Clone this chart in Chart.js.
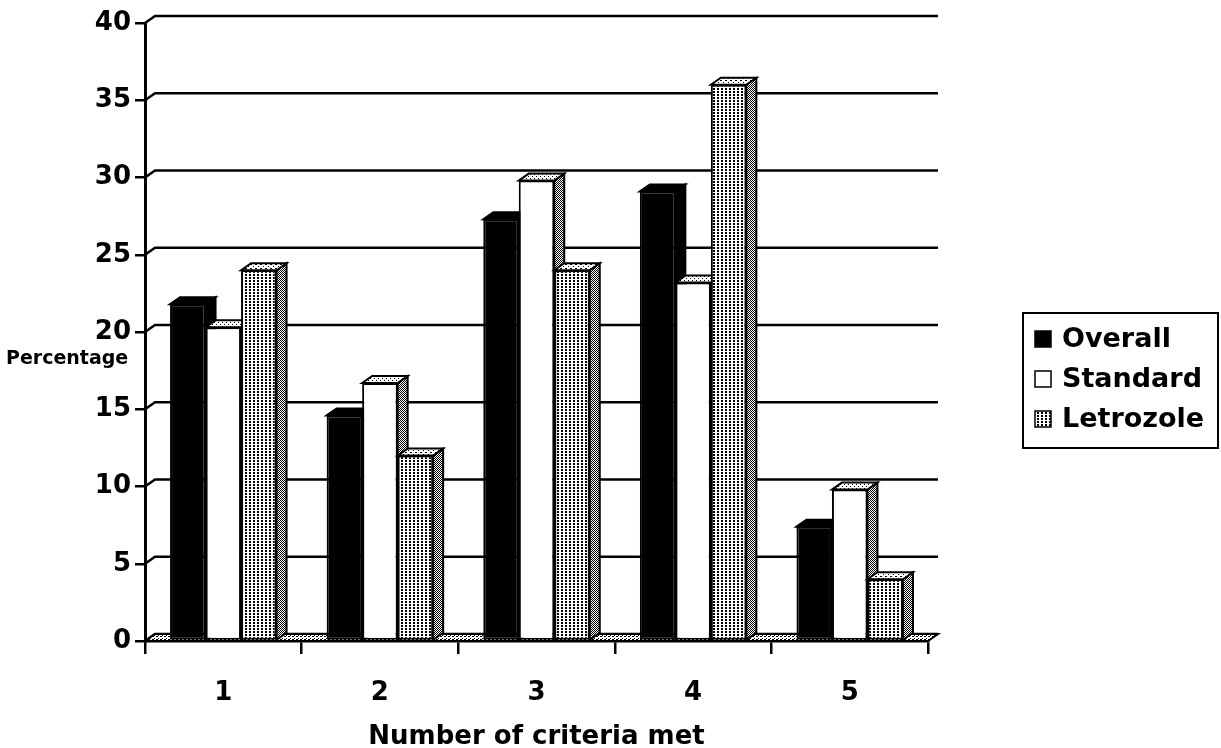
<!DOCTYPE html>
<html>
<head>
<meta charset="utf-8">
<script src="https://cdn.jsdelivr.net/npm/chart.js@4/dist/chart.umd.min.js"></script>
<style>
  html, body { margin: 0; padding: 0; background: #fff; }
  #wrap { width: 1221px; height: 748px; position: relative; }
</style>
</head>
<body>
<div id="wrap"><canvas id="c" width="1221" height="748"></canvas></div>
<script>
// ---- data ----
const categories = ['1', '2', '3', '4', '5'];
const overall   = [21.8, 14.6, 27.3, 29.1, 7.4];
const standard  = [20.3, 16.7, 29.8, 23.2, 9.8];
const letrozole = [24, 12, 24, 36, 4];
const seriesNames = ['Overall', 'Standard', 'Letrozole'];
const yTickValues = [0, 5, 10, 15, 20, 25, 30, 35, 40];
const xTitle = 'Number of criteria met';
const yTitle = 'Percentage';

// ---- drawing helpers ----
const DX = 10, DY = -7;          // depth offset of the 3D bars
const FONT = 'DejaVu Sans';
const canvas = document.getElementById('c');
const mainCtx = canvas.getContext('2d');

function tile(w, h, cells) {
  const c = document.createElement('canvas');
  c.width = w; c.height = h;
  const g = c.getContext('2d');
  g.fillStyle = '#fff'; g.fillRect(0, 0, w, h);
  g.fillStyle = '#000';
  cells.forEach(([x, y, cw, ch]) => g.fillRect(x, y, cw || 1, ch || 1));
  return mainCtx.createPattern(c, 'repeat');
}

const dotFront   = tile(4, 3, [[1, 1, 2, 2]]);
const checkSide  = tile(2, 2, [[0, 0], [1, 1]]);
const lightTop   = tile(5, 4, [[0, 0, 2, 1], [3, 2, 1, 1]]);
const sparseTop  = tile(4, 4, [[0, 0], [2, 2]]);
const floorFill  = tile(4, 3, [[0, 0, 2, 1], [2, 2, 1, 1]]);

const faceStyles = [
  { front: '#000',   top: '#000',    side: '#000' },
  { front: '#fff',   top: sparseTop, side: checkSide },
  { front: dotFront, top: lightTop,  side: checkSide }
];

function poly(ctx, pts, fill) {
  ctx.beginPath();
  ctx.moveTo(pts[0][0], pts[0][1]);
  for (let k = 1; k < pts.length; k++) ctx.lineTo(pts[k][0], pts[k][1]);
  ctx.closePath();
  ctx.fillStyle = fill;
  ctx.fill();
  ctx.lineWidth = 2;
  ctx.strokeStyle = '#000';
  ctx.stroke();
}

// back wall grid, floor and the bars with their top and side faces
const depthPlugin = {
  id: 'depth3d',
  beforeDatasetsDraw(chart) {
    const { ctx, chartArea: a, scales: { y } } = chart;
    ctx.save();
    ctx.strokeStyle = '#000';
    ctx.lineWidth = 2.5;
    y.ticks.forEach(t => {
      const py = y.getPixelForValue(t.value);
      ctx.beginPath();
      ctx.moveTo(a.left, py);
      ctx.lineTo(a.left + DX, py + DY);
      ctx.lineTo(a.right + DX, py + DY);
      ctx.stroke();
    });
    const by = y.getPixelForValue(0);
    poly(ctx, [[a.left, by], [a.left + DX, by + DY], [a.right + DX, by + DY], [a.right, by]], floorFill);

    for (let i = 0; i < categories.length; i++) {
      for (let d = 0; d < chart.data.datasets.length; d++) {
        const bar = chart.getDatasetMeta(d).data[i];
        const { x: cx, y: top, base, width } = bar.getProps(['x', 'y', 'base', 'width'], true);
        const l = cx - width / 2, r = cx + width / 2;
        const st = faceStyles[d];
        poly(ctx, [[r, top], [r + DX, top + DY], [r + DX, base + DY], [r, base]], st.side);
        poly(ctx, [[l, top], [l + DX, top + DY], [r + DX, top + DY], [r, top]], st.top);
        bar.draw(ctx, a);
      }
    }
    ctx.restore();
    return false;
  }
};

// horizontal y title and boxed legend
const decorPlugin = {
  id: 'decor',
  afterDraw(chart) {
    const ctx = chart.ctx;
    ctx.save();
    ctx.fillStyle = '#000';
    ctx.font = `bold 19px "${FONT}"`;
    ctx.textAlign = 'left';
    ctx.textBaseline = 'middle';
    ctx.fillText(yTitle, 6, 359);

    const bx = 1023, byTop = 313, bw = 195, bh = 135;
    ctx.lineWidth = 2;
    ctx.strokeStyle = '#000';
    ctx.strokeRect(bx, byTop, bw, bh);
    ctx.font = `bold 27px "${FONT}"`;
    chart.data.datasets.forEach((ds, d) => {
      const cy = 339 + d * 40;
      const s = 16;
      ctx.fillStyle = faceStyles[d].front;
      ctx.fillRect(bx + 12, cy - s / 2, s, s);
      ctx.lineWidth = 1.5;
      ctx.strokeRect(bx + 12, cy - s / 2, s, s);
      ctx.fillStyle = '#000';
      ctx.fillText(ds.label, bx + 39, cy + 1);
    });
    ctx.restore();
  }
};

const seriesValues = [overall, standard, letrozole];
const datasets = seriesNames.map((name, d) => ({
  label: name,
  data: seriesValues[d],
  backgroundColor: faceStyles[d].front,
  borderColor: '#000',
  borderWidth: 2,
  borderSkipped: false,
  categoryPercentage: 0.68,
  barPercentage: 1.0
}));

const tickFont = { family: FONT, weight: 'bold', size: 26 };

new Chart(canvas, {
  type: 'bar',
  data: { labels: categories, datasets },
  plugins: [depthPlugin, decorPlugin],
  options: {
    responsive: false,
    animation: false,
    devicePixelRatio: 1,
    layout: { padding: { top: 23, right: 293, bottom: 0, left: 0 } },
    plugins: { legend: { display: false }, tooltip: { enabled: false } },
    scales: {
      y: {
        min: 0, max: 40, z: 1,
        afterBuildTicks: s => { s.ticks = yTickValues.map(v => ({ value: v })); },
        afterFit: s => { s.width = 145; },
        ticks: { color: '#000', font: tickFont, padding: 4 },
        grid: { drawOnChartArea: false, drawTicks: true, tickLength: 10, color: '#000', lineWidth: 2.5 },
        border: { display: true, color: '#000', width: 3 }
      },
      x: {
        z: 1,
        afterFit: s => { s.height = 107; },
        ticks: { color: '#000', font: tickFont, padding: 24 },
        grid: { drawOnChartArea: false, drawTicks: true, tickLength: 13, color: '#000', lineWidth: 2.5, offset: true },
        border: { display: true, color: '#000', width: 2.5 },
        title: {
          display: true, text: xTitle, color: '#000',
          font: { family: FONT, weight: 'bold', size: 26, lineHeight: 0.8 },
          padding: { top: 0, bottom: 0 }
        }
      }
    }
  }
});
</script>
</body>
</html>
